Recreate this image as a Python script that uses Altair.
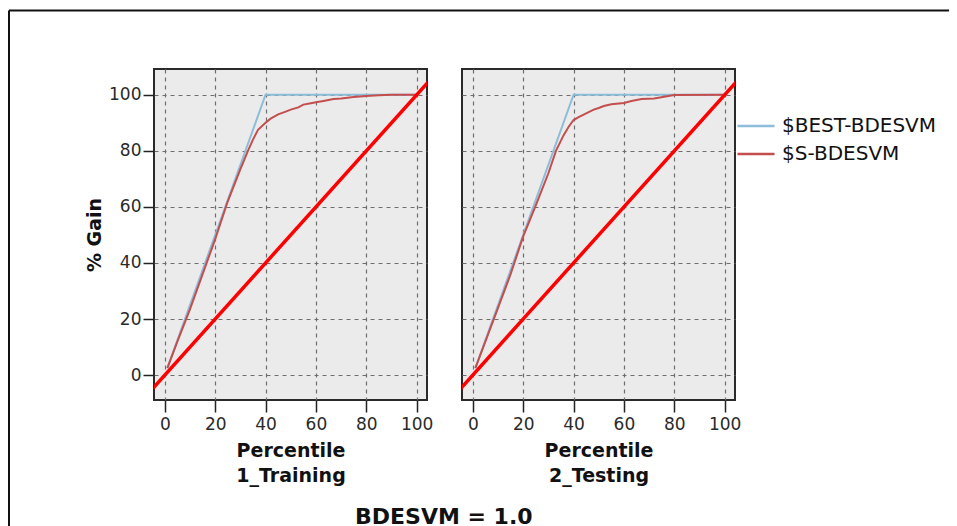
import altair as alt
import pandas as pd

# ---------------- data ----------------
panels = ["1_Training", "2_Testing"]
series = ["$BEST-BDESVM", "$S-BDESVM"]
series_colors = ["#8dbdd8", "#c44e4e"]
tick_values = [0, 20, 40, 60, 80, 100]

best_pct = [1, 40, 100]
best_gain = [2.5, 100, 100]

train_pct = [1, 5, 10, 15, 20, 25, 30, 33, 35, 37, 40, 42, 45, 48, 50, 53, 55, 58, 60, 63, 67, 70, 75, 80, 85, 90, 100]
train_gain = [2.5, 12, 23.5, 36, 48.5, 62, 73.5, 80, 84, 87.5, 90, 91.5, 93, 94, 94.7, 95.5, 96.5, 97, 97.3, 97.8, 98.5, 98.7, 99.2, 99.6, 99.8, 100, 100]

test_pct = [1, 5, 10, 15, 20, 25, 30, 33, 36, 38, 40, 42, 44, 46, 48, 50, 52, 55, 60, 63, 67, 72, 76, 80, 100]
test_gain = [2.5, 12, 24, 36, 49.5, 60.5, 72, 80, 85.5, 88.5, 91, 92, 92.9, 93.8, 94.7, 95.3, 96, 96.6, 97.1, 97.8, 98.5, 98.7, 99.3, 99.9, 100]

diag_pct = [-10, 110]
diag_gain = [-10, 110]

title_text = "BDESVM = 1.0"

FONT = "DejaVu Sans"

x_scale = alt.Scale(domain=[-4.3, 104.1], nice=False, zero=False)
y_scale = alt.Scale(domain=[-8.9, 109.2], nice=False, zero=False)


def make_panel(name, s_pct, s_gain, first):
    df = pd.DataFrame({
        "pct": best_pct + s_pct,
        "gain": best_gain + s_gain,
        "series": [series[0]] * len(best_pct) + [series[1]] * len(s_pct),
        "ord": list(range(len(best_pct))) + list(range(len(s_pct))),
    })
    x_axis = alt.Axis(values=tick_values, title=["Percentile", name],
                      titleLineHeight=25, titlePadding=9, labelPadding=4, tickSize=12)
    if first:
        y_axis = alt.Axis(values=tick_values, title="% Gain", titlePadding=4,
                          labelPadding=2, tickSize=11)
        legend = None
    else:
        y_axis = alt.Axis(values=tick_values, title=None, labels=False, ticks=False)
        legend = alt.Legend(orient="none", legendX=274, legendY=47, title=None,
                            symbolType="stroke", symbolSize=1369, symbolStrokeWidth=2.5,
                            labelFont=FONT, labelFontSize=20, labelColor="#111",
                            labelOffset=6, rowPadding=8, clipHeight=20, padding=0)

    lines = alt.Chart(df).mark_line(strokeWidth=2, clip=True).encode(
        x=alt.X("pct:Q", scale=x_scale, axis=x_axis),
        y=alt.Y("gain:Q", scale=y_scale, axis=y_axis),
        color=alt.Color("series:N", scale=alt.Scale(domain=series, range=series_colors),
                        legend=legend),
        order="ord:Q",
    )
    diag = alt.Chart(pd.DataFrame({"pct": diag_pct, "gain": diag_gain})).mark_line(
        color="#ff0000", strokeWidth=3.5, clip=True
    ).encode(
        x=alt.X("pct:Q", scale=x_scale, axis=x_axis),
        y=alt.Y("gain:Q", scale=y_scale, axis=y_axis),
    )
    layers = [lines, diag]
    if first:
        one = pd.DataFrame({"k": [0]})
        top_rule = alt.Chart(one).mark_rule(color="#111", strokeWidth=2).encode(
            x=alt.value(-145), x2=alt.value(800), y=alt.value(-58.5))
        left_rule = alt.Chart(one).mark_rule(color="#111", strokeWidth=2).encode(
            x=alt.value(-145), y=alt.value(-58.5), y2=alt.value(460))
        layers += [top_rule, left_rule]
    return alt.layer(*layers).properties(width=273, height=331)


p1 = make_panel(panels[0], train_pct, train_gain, True)
p2 = make_panel(panels[1], test_pct, test_gain, False)

chart = alt.hconcat(p1, p2, spacing=35, bounds="flush").resolve_scale(
    color="independent"
).resolve_legend(color="independent").properties(
    title=alt.TitleParams(text=title_text, orient="bottom", anchor="start",
                          font=FONT, fontSize=22, fontWeight="bold", color="#111",
                          dx=348, offset=-24),
    autosize=alt.AutoSizeParams(type="none"),
    padding={"left": 146, "top": 61, "right": 795, "bottom": 457},
    background="white",
).configure_view(
    fill="#ebebeb", stroke="#2a2a2a", strokeWidth=2
).configure_axis(
    labelFont=FONT, labelFontSize=17, labelColor="#2a2a2a",
    titleFont=FONT, titleFontSize=19, titleFontWeight="bold", titleColor="#111",
    tickColor="#222", tickWidth=1.5,
    gridColor="#6e6e6e", gridDash=[4, 4], gridWidth=1.2,
    domain=False, labelFlush=False,
)

chart.save("out.html", embed_options={"renderer": "svg", "actions": False})
